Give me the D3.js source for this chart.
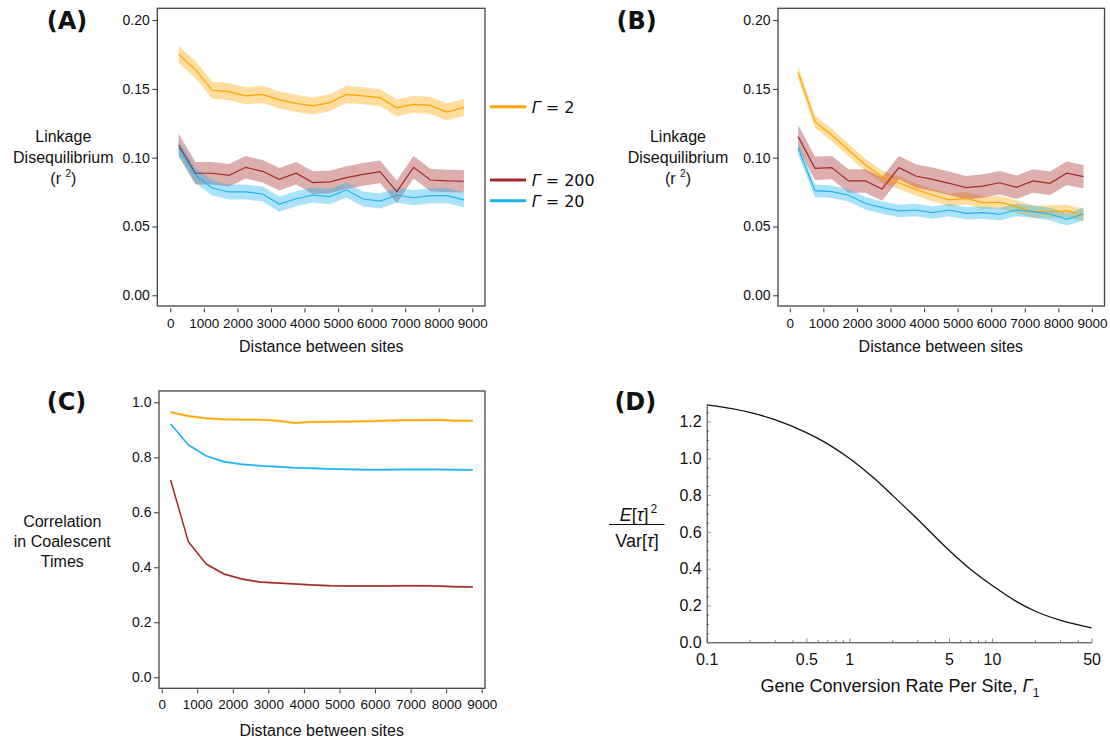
<!DOCTYPE html>
<html lang="en">
<head>
<meta charset="UTF-8">
<title>Linkage disequilibrium and coalescent times</title>
<script src="https://d3js.org/d3.v7.min.js"></script>
<style>
  body { margin: 0; background: #fff; }
  svg text { font-family: "Liberation Sans", Arial, sans-serif; fill: #111; }
  .panel-label { font-family: "DejaVu Sans", sans-serif; font-weight: bold; font-size: 24px; }
  .legend text { font-family: "DejaVu Sans", sans-serif; font-size: 16px; }
</style>
</head>
<body>
<div id="chart"></div>
<script>
// distance bins (mid points) used by panels A, B, C
var distances = [250, 750, 1250, 1750, 2250, 2750, 3250, 3750, 4250, 4750, 5250, 5750, 6250, 6750, 7250, 7750, 8250, 8750];
var distTicks = [0, 1000, 2000, 3000, 4000, 5000, 6000, 7000, 8000, 9000];

// panel A : linkage disequilibrium
var ldA_g2   = [0.175, 0.164, 0.149, 0.148, 0.145, 0.146, 0.142, 0.1395, 0.1376, 0.140, 0.146, 0.145, 0.1436, 0.1363, 0.1388, 0.138, 0.1332, 0.1366];
var ldA_g200 = [0.1092, 0.0887, 0.0887, 0.0872, 0.093, 0.0901, 0.0843, 0.0887, 0.0819, 0.0824, 0.0855, 0.0879, 0.0898, 0.0753, 0.093, 0.0838, 0.0831, 0.0829];
var ldA_g20  = [0.107, 0.0872, 0.078, 0.0751, 0.0751, 0.0736, 0.0663, 0.0702, 0.0729, 0.0717, 0.0765, 0.070, 0.0685, 0.0727, 0.0709, 0.0724, 0.0724, 0.0693];

// panel B : linkage disequilibrium
var ldB_g2   = [0.1618, 0.1262, 0.1165, 0.1056, 0.0947, 0.0862, 0.0818, 0.0770, 0.0729, 0.0693, 0.0705, 0.0673, 0.0676, 0.0644, 0.0608, 0.0608, 0.0613, 0.0584];
var ldB_g200 = [0.1153, 0.0923, 0.0928, 0.0831, 0.0831, 0.0773, 0.0928, 0.0867, 0.0843, 0.0814, 0.0782, 0.0794, 0.0818, 0.0785, 0.0831, 0.0814, 0.0887, 0.0862];
var ldB_g20  = [0.1068, 0.0760, 0.0753, 0.0727, 0.0669, 0.0637, 0.0613, 0.0620, 0.0601, 0.0620, 0.0596, 0.0601, 0.0589, 0.0620, 0.0608, 0.0591, 0.0552, 0.0591];

// panel C : correlation in coalescent times
var corC_g2   = [0.964, 0.950, 0.942, 0.938, 0.937, 0.937, 0.933, 0.925, 0.929, 0.929, 0.930, 0.931, 0.933, 0.935, 0.935, 0.936, 0.933, 0.933];
var corC_g20  = [0.921, 0.845, 0.805, 0.784, 0.7745, 0.7695, 0.766, 0.762, 0.760, 0.7575, 0.7564, 0.755, 0.755, 0.756, 0.756, 0.756, 0.755, 0.754];
var corC_g200 = [0.7176, 0.493, 0.412, 0.3756, 0.3575, 0.3465, 0.343, 0.3393, 0.3356, 0.333, 0.332, 0.332, 0.332, 0.333, 0.333, 0.332, 0.3296, 0.3284];

// ribbon half widths per series
var bandA = { g2: 0.0062, g200: 0.0082, g20: 0.0055 };
var bandB = { g2: 0.0045, g200: 0.0085, g20: 0.0045 };
var bandC = { g2: 0.005,  g200: 0.004,  g20: 0.004 };

var ldTicks = [0, 0.05, 0.10, 0.15, 0.20];
var corTicks = [0, 0.2, 0.4, 0.6, 0.8, 1.0];

// panel D : E[tau]^2 / Var[tau] against gene conversion rate
var gammaD = [0.1, 0.15, 0.2, 0.3, 0.5, 0.7, 1, 1.5, 2, 3, 5, 7, 10, 15, 20, 30, 50];
var ratioD = [1.29, 1.27, 1.25, 1.21, 1.14, 1.08, 1.0, 0.89, 0.80, 0.67, 0.50, 0.40, 0.31, 0.22, 0.17, 0.12, 0.078];
var dTicksX = [0.1, 0.5, 1, 5, 10, 50];
var dMinorX = [0.2, 0.3, 0.4, 0.6, 0.7, 0.8, 0.9, 2, 3, 4, 6, 7, 8, 9, 20, 30, 40];
var dTicksY = [0, 0.2, 0.4, 0.6, 0.8, 1.0, 1.2];
var dMinorY = [0.05, 0.1, 0.15, 0.25, 0.3, 0.35, 0.45, 0.5, 0.55, 0.65, 0.7, 0.75, 0.85, 0.9, 0.95, 1.05, 1.1, 1.15, 1.25];

var legendLabels = ["2", "200", "20"];
var colors = { g2: "#FFA500", g200: "#A52A2A", g20: "#1EB4F0" };

var svg = d3.select("#chart").append("svg")
    .attr("width", 1110)
    .attr("height", 742);

function styleAxis(sel, size) {
  sel.select(".domain").remove();
  sel.selectAll(".tick line").attr("stroke", "#333");
  sel.selectAll(".tick text")
    .attr("font-size", size)
    .attr("font-family", '"Liberation Sans", Arial, sans-serif')
    .attr("fill", "#111");
}

// stacked y label; lines is a list of strings, "(r2)" gets a superscript
function yLabel(g, cx, baselines, lines) {
  lines.forEach(function(t, i) {
    var txt = g.append("text")
      .attr("x", cx).attr("y", baselines[i])
      .attr("text-anchor", "middle")
      .attr("font-size", 16);
    if (t === "(r2)") {
      txt.append("tspan").text("(r ");
      txt.append("tspan").attr("font-size", 10).attr("dy", -7).text("2");
      txt.append("tspan").attr("dy", 7).text(")");
    } else {
      txt.text(t);
    }
  });
}

function ribbonPanel(p) {
  var x = d3.scaleLinear().domain([0, 9000]).range(p.xRange);
  var y = d3.scaleLinear().domain(p.yDomain).range(p.yRange);
  var g = svg.append("g");

  p.series.forEach(function(s) {
    var area = d3.area()
      .x(function(d, i) { return x(distances[i]); })
      .y0(function(d) { return y(d - s.band); })
      .y1(function(d) { return y(d + s.band); });
    g.append("path").datum(s.values)
      .attr("d", area)
      .attr("fill", s.color)
      .attr("fill-opacity", 0.38);
  });
  p.series.forEach(function(s) {
    var line = d3.line()
      .x(function(d, i) { return x(distances[i]); })
      .y(function(d) { return y(d); });
    g.append("path").datum(s.values)
      .attr("d", line)
      .attr("fill", "none")
      .attr("stroke", s.color)
      .attr("stroke-width", p.lineWidth);
  });

  g.append("rect")
    .attr("x", p.frame[0]).attr("y", p.frame[1])
    .attr("width", p.frame[2] - p.frame[0])
    .attr("height", p.frame[3] - p.frame[1])
    .attr("fill", "none")
    .attr("stroke", "#444")
    .attr("stroke-width", 1.3);

  g.append("g")
    .attr("transform", "translate(0," + p.xAxisY + ")")
    .call(d3.axisBottom(x).tickValues(distTicks).tickSize(4).tickPadding(6).tickFormat(d3.format("d")))
    .call(styleAxis, 13.5);

  g.append("g")
    .attr("transform", "translate(" + p.frame[0] + ",0)")
    .call(d3.axisLeft(y).tickValues(p.yTicks).tickSize(5).tickPadding(2.5).tickFormat(p.yFormat))
    .call(styleAxis, 14);

  g.append("text")
    .attr("x", x(4500)).attr("y", p.titleY)
    .attr("text-anchor", "middle")
    .attr("font-size", 16)
    .text("Distance between sites");

  yLabel(g, p.yLabelX, p.yLabelBase, p.yLabelLines);

  g.append("text").attr("class", "panel-label")
    .attr("x", p.tag[0]).attr("y", p.tag[1])
    .text(p.tagText);
}

// Panel A
ribbonPanel({
  xRange: [170.3, 472.3], yDomain: [0, 0.2], yRange: [295.3, 20.1],
  frame: [157.3, 8.3, 485, 306], xAxisY: 308.3, lineWidth: 1.2,
  yTicks: ldTicks, yFormat: d3.format(".2f"),
  series: [
    { values: ldA_g2,   color: colors.g2,   band: bandA.g2 },
    { values: ldA_g200, color: colors.g200, band: bandA.g200 },
    { values: ldA_g20,  color: colors.g20,  band: bandA.g20 }
  ],
  titleY: 352, yLabelX: 63.3, yLabelBase: [141.7, 162.7, 183.5],
  yLabelLines: ["Linkage", "Disequilibrium", "(r2)"],
  tag: [46.7, 28.5], tagText: "(A)"
});

// Panel B
ribbonPanel({
  xRange: [789.8, 1091.9], yDomain: [0, 0.2], yRange: [295.3, 20.1],
  frame: [778, 8.3, 1104.5, 306], xAxisY: 308.3, lineWidth: 1.2,
  yTicks: ldTicks, yFormat: d3.format(".2f"),
  series: [
    { values: ldB_g2,   color: colors.g2,   band: bandB.g2 },
    { values: ldB_g200, color: colors.g200, band: bandB.g200 },
    { values: ldB_g20,  color: colors.g20,  band: bandB.g20 }
  ],
  titleY: 352, yLabelX: 678, yLabelBase: [141.7, 162.7, 183.5],
  yLabelLines: ["Linkage", "Disequilibrium", "(r2)"],
  tag: [616.6, 28.5], tagText: "(B)"
});

// Panel C
ribbonPanel({
  xRange: [161.7, 481.7], yDomain: [0, 1], yRange: [677.3, 402.3],
  frame: [159, 391, 485, 688.3], xAxisY: 689.3, lineWidth: 1.5,
  yTicks: corTicks, yFormat: d3.format(".1f"),
  series: [
    { values: corC_g2,   color: colors.g2,   band: bandC.g2 },
    { values: corC_g20,  color: colors.g20,  band: bandC.g20 },
    { values: corC_g200, color: colors.g200, band: bandC.g200 }
  ],
  titleY: 736, yLabelX: 62.3, yLabelBase: [526.5, 546.7, 566.7],
  yLabelLines: ["Correlation", "in Coalescent", "Times"],
  tag: [46.7, 410], tagText: "(C)"
});

// Legend between A and B
var legend = svg.append("g").attr("class", "legend");
var legendY = [106.7, 180, 200.7];
var legendKeys = ["g2", "g200", "g20"];
legendKeys.forEach(function(k, i) {
  legend.append("line")
    .attr("x1", 490).attr("x2", 526)
    .attr("y1", legendY[i]).attr("y2", legendY[i])
    .attr("stroke", colors[k]).attr("stroke-width", 3);
  var t = legend.append("text").attr("x", 531.7).attr("y", legendY[i] + 5.8);
  t.append("tspan").attr("font-style", "italic").text("\u0393");
  t.append("tspan").text(" = " + legendLabels[i]);
});

// Panel D
var xD = d3.scaleLog().domain([0.1, 50]).range([706.7, 1091.6]);
var yD = d3.scaleLinear().domain([0, 1.29]).range([642.3, 642.3 - 1.29 * 184]);
var gD = svg.append("g");

function styleD(sel) {
  sel.selectAll(".tick line").attr("stroke", "#888");
  sel.select(".domain").attr("stroke", "#333");
  sel.selectAll(".tick text")
    .attr("font-size", 16)
    .attr("font-family", '"Liberation Sans", Arial, sans-serif')
    .attr("fill", "#111");
}

gD.append("g").attr("transform", "translate(0,642.3)")
  .call(d3.axisBottom(xD).tickValues(dMinorX).tickSize(-2.5).tickFormat(""))
  .call(function(s) { s.select(".domain").remove(); s.selectAll("line").attr("stroke", "#888"); });
gD.append("g").attr("transform", "translate(0,642.3)")
  .call(d3.axisBottom(xD).tickValues(dTicksX).tickSizeInner(-4).tickSizeOuter(0).tickPadding(11)
        .tickFormat(function(d) { return String(d); }))
  .call(styleD);

gD.append("g").attr("transform", "translate(706.7,0)")
  .call(d3.axisLeft(yD).tickValues(dMinorY).tickSize(-2.5).tickFormat(""))
  .call(function(s) { s.select(".domain").remove(); s.selectAll("line").attr("stroke", "#888"); });
gD.append("g").attr("transform", "translate(706.7,0)")
  .call(d3.axisLeft(yD).tickValues(dTicksY).tickSizeInner(-4).tickSizeOuter(0).tickPadding(5)
        .tickFormat(d3.format(".1f")))
  .call(styleD);

var dPoints = gammaD.map(function(g, i) { return [g, ratioD[i]]; });
gD.append("path").datum(dPoints)
  .attr("d", d3.line().x(function(d) { return xD(d[0]); }).y(function(d) { return yD(d[1]); }).curve(d3.curveMonotoneX))
  .attr("fill", "none")
  .attr("stroke", "#111")
  .attr("stroke-width", 1.3);

// x title with subscript
var dt = gD.append("text").attr("x", 900).attr("y", 691.5).attr("text-anchor", "middle").attr("font-size", 18);
dt.append("tspan").text("Gene Conversion Rate Per Site, ");
dt.append("tspan").attr("font-style", "italic").text("\u0393");
dt.append("tspan").attr("font-size", 12).attr("dy", 5).text("1");

// y title as a fraction
var num = gD.append("text").attr("x", 638.5).attr("y", 521).attr("text-anchor", "middle").attr("font-size", 18);
num.append("tspan").attr("font-style", "italic").text("E");
num.append("tspan").text("[");
num.append("tspan").attr("font-style", "italic").text("\u03C4");
num.append("tspan").text("]");
num.append("tspan").attr("font-size", 12).attr("dy", -8).attr("dx", 2).text("2");
gD.append("line").attr("x1", 609).attr("x2", 664.5).attr("y1", 524.5).attr("y2", 524.5)
  .attr("stroke", "#111").attr("stroke-width", 1);
var den = gD.append("text").attr("x", 637).attr("y", 547).attr("text-anchor", "middle").attr("font-size", 18);
den.append("tspan").text("Var[");
den.append("tspan").attr("font-style", "italic").text("\u03C4");
den.append("tspan").text("]");

gD.append("text").attr("class", "panel-label").attr("x", 614.4).attr("y", 410).text("(D)");
</script>
</body>
</html>
